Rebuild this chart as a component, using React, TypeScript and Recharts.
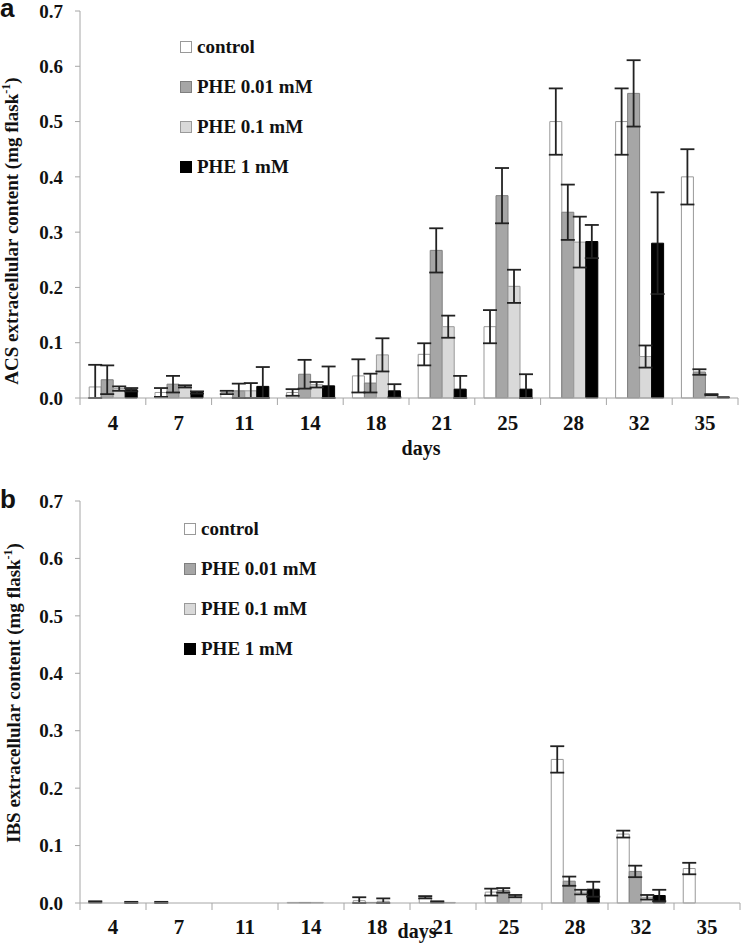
import React from 'react';
import { BarChart, Bar, XAxis, YAxis, ErrorBar, Legend } from 'recharts';

// x categories (days) and y ticks
const days = ['4', '7', '11', '14', '18', '21', '25', '28', '32', '35'];
const yTicks = [0, 0.1, 0.2, 0.3, 0.4, 0.5, 0.6, 0.7];

// panel a – ACS extracellular content
const acsControl = [0.02, 0.01, 0.01, 0.01, 0.04, 0.079, 0.129, 0.5, 0.5, 0.4];
const acsControlErr = [0.04, 0.008, 0.003, 0.006, 0.03, 0.02, 0.03, 0.06, 0.06, 0.05];
const acsPhe001 = [0.033, 0.025, 0.013, 0.043, 0.027, 0.267, 0.366, 0.336, 0.551, 0.047];
const acsPhe001Err = [0.026, 0.015, 0.013, 0.026, 0.017, 0.04, 0.05, 0.05, 0.06, 0.005];
const acsPhe01 = [0.017, 0.021, 0.013, 0.024, 0.078, 0.129, 0.202, 0.282, 0.075, 0.006];
const acsPhe01Err = [0.004, 0.002, 0.014, 0.005, 0.03, 0.02, 0.03, 0.046, 0.02, 0.001];
const acsPhe1 = [0.015, 0.01, 0.021, 0.022, 0.013, 0.016, 0.016, 0.283, 0.28, 0.002];
const acsPhe1Err = [0.003, 0.002, 0.035, 0.035, 0.012, 0.024, 0.027, 0.03, 0.092, 0];

// panel b – IBS extracellular content
const ibsControl = [0.002, 0.001, 0, 0.001, 0.004, 0.01, 0.019, 0.25, 0.12, 0.06];
const ibsControlErr = [0.001, 0.001, 0, 0, 0.006, 0.002, 0.006, 0.023, 0.006, 0.01];
const ibsPhe001 = [0, 0, 0, 0.001, 0.001, 0.002, 0.022, 0.038, 0.055, 0];
const ibsPhe001Err = [0, 0, 0, 0, 0, 0.001, 0.004, 0.008, 0.01, 0];
const ibsPhe01 = [0, 0, 0, 0.001, 0.003, 0.001, 0.012, 0.019, 0.01, 0];
const ibsPhe01Err = [0, 0, 0, 0, 0.005, 0, 0.002, 0.004, 0.004, 0];
const ibsPhe1 = [0.001, 0, 0, 0, 0, 0, 0, 0.024, 0.013, 0];
const ibsPhe1Err = [0.001, 0, 0, 0, 0, 0, 0, 0.013, 0.01, 0];

const SERIES = [
  { key: 'control', name: 'control', fill: '#ffffff', stroke: '#999999' },
  { key: 'phe001', name: 'PHE 0.01 mM', fill: '#a6a6a6', stroke: '#7f7f7f' },
  { key: 'phe01', name: 'PHE 0.1 mM', fill: '#d9d9d9', stroke: '#9a9a9a' },
  { key: 'phe1', name: 'PHE 1 mM', fill: '#000000', stroke: '#000000' },
];

const SERIF = "'Liberation Serif', 'Times New Roman', serif";
const SANS = "'Liberation Sans', Arial, sans-serif";
const AXIS_GRAY = '#a6a6a6';

// error bars are clipped at zero like in the original figure
const buildRows = (vals: number[][], errs: number[][]) =>
  days.map((day, i) => {
    const row: any = { day };
    SERIES.forEach((s, k) => {
      const v = vals[k][i];
      const e = errs[k][i];
      row[s.key] = v;
      row[s.key + 'Err'] = e > 0 ? [Math.min(e, v), e] : null;
    });
    return row;
  });

const acsRows = buildRows(
  [acsControl, acsPhe001, acsPhe01, acsPhe1],
  [acsControlErr, acsPhe001Err, acsPhe01Err, acsPhe1Err]
);
const ibsRows = buildRows(
  [ibsControl, ibsPhe001, ibsPhe01, ibsPhe1],
  [ibsControlErr, ibsPhe001Err, ibsPhe01Err, ibsPhe1Err]
);

// category label + tick marks on the category boundaries
const DayTick = (props: any) => {
  const { x, y, payload, index, band, labelDy } = props;
  const left = x - band / 2;
  const right = x + band / 2;
  return (
    <g>
      <line x1={left} y1={y} x2={left} y2={y + 7} stroke={AXIS_GRAY} />
      {index === days.length - 1 && (
        <line x1={right} y1={y} x2={right} y2={y + 7} stroke={AXIS_GRAY} />
      )}
      <text
        x={x}
        y={y + labelDy}
        textAnchor="middle"
        fontFamily={SERIF}
        fontWeight="bold"
        fontSize={21}
        fill="#111"
      >
        {payload.value}
      </text>
    </g>
  );
};

const LegendBox = () => (
  <div>
    {SERIES.map((s) => (
      <div
        key={s.key}
        style={{ display: 'flex', alignItems: 'center', height: 40 }}
      >
        <span
          style={{
            width: 10,
            height: 10,
            background: s.fill,
            border: `1px solid ${s.stroke}`,
            marginRight: 5,
          }}
        />
        <span
          style={{
            fontFamily: SERIF,
            fontWeight: 'bold',
            fontSize: 19,
            color: '#111',
            whiteSpace: 'nowrap',
          }}
        >
          {s.name}
        </span>
      </div>
    ))}
  </div>
);

interface PanelProps {
  rows: any[];
  top: number;
  height: number;
  marginTop: number;
  marginRight: number;
  xAxisHeight: number;
  labelDy: number;
  legendLeft: number;
  legendTop: number;
}

const Panel = ({
  rows,
  top,
  height,
  marginTop,
  marginRight,
  xAxisHeight,
  labelDy,
  legendLeft,
  legendTop,
}: PanelProps) => {
  const band = (742 - 80 - marginRight) / days.length;
  return (
    <div style={{ position: 'absolute', left: 0, top }}>
      <BarChart
        width={742}
        height={height}
        data={rows}
        margin={{ top: marginTop, right: marginRight, left: 0, bottom: 0 }}
        barCategoryGap="14%"
        barGap={0}
      >
        <XAxis
          dataKey="day"
          height={xAxisHeight}
          interval={0}
          tickSize={0}
          tickMargin={0}
          tickLine={false}
          axisLine={{ stroke: AXIS_GRAY }}
          tick={(p: any) => <DayTick {...p} band={band} labelDy={labelDy} />}
        />
        <YAxis
          width={80}
          domain={[0, 0.7]}
          ticks={yTicks}
          interval={0}
          tickSize={5}
          tickMargin={12}
          tickFormatter={(v: number) => v.toFixed(1)}
          axisLine={{ stroke: AXIS_GRAY }}
          tickLine={{ stroke: AXIS_GRAY }}
          tick={{
            fontFamily: SERIF,
            fontWeight: 'bold',
            fontSize: 19,
            fill: '#111',
          }}
        />
        <Legend
          layout="vertical"
          align="center"
          verticalAlign="middle"
          content={() => <LegendBox />}
          wrapperStyle={{ left: legendLeft, top: legendTop, width: 200, height: 160 }}
        />
        {SERIES.map((s) => (
          <Bar
            key={s.key}
            dataKey={s.key}
            name={s.name}
            fill={s.fill}
            stroke={s.stroke}
            strokeWidth={1}
            isAnimationActive={false}
          >
            <ErrorBar
              dataKey={s.key + 'Err'}
              width={7}
              stroke="#222"
              strokeWidth={1.8}
              isAnimationActive={false}
            />
          </Bar>
        ))}
      </BarChart>
    </div>
  );
};

const textBase: React.CSSProperties = {
  position: 'absolute',
  fontFamily: SERIF,
  fontWeight: 'bold',
  color: '#111',
  whiteSpace: 'nowrap',
  lineHeight: 1,
};

const YTitle = ({ cx, cy, prefix }: { cx: number; cy: number; prefix: string }) => (
  <div
    style={{
      ...textBase,
      left: cx,
      top: cy,
      fontSize: 19,
      transform: 'translate(-50%, -50%) rotate(-90deg)',
    }}
  >
    {prefix} extracellular content (mg flask
    <sup style={{ fontSize: 12, verticalAlign: 'top', position: 'relative', top: -2 }}>-1</sup>)
  </div>
);

export default function App() {
  return (
    <div
      style={{
        position: 'absolute',
        left: 0,
        top: 0,
        width: 742,
        height: 951,
        background: '#fff',
        overflow: 'hidden',
      }}
    >
      <Panel
        rows={acsRows}
        top={0}
        height={470}
        marginTop={11}
        marginRight={4}
        xAxisHeight={72}
        labelDy={32}
        legendLeft={180}
        legendTop={27}
      />
      <Panel
        rows={ibsRows}
        top={470}
        height={481}
        marginTop={31}
        marginRight={2}
        xAxisHeight={48}
        labelDy={31}
        legendLeft={184}
        legendTop={39}
      />
      <YTitle cx={11} cy={231} prefix="ACS" />
      <YTitle cx={13} cy={693} prefix="IBS" />
      <div style={{ ...textBase, fontSize: 20, left: 421, top: 438, transform: 'translateX(-50%)' }}>
        days
      </div>
      <div style={{ ...textBase, fontSize: 20, left: 417, top: 921, transform: 'translateX(-50%)' }}>
        days
      </div>
      <div style={{ ...textBase, fontFamily: SANS, fontSize: 26, left: 0, top: -5 }}>a</div>
      <div style={{ ...textBase, fontFamily: SANS, fontSize: 26, left: 0, top: 486 }}>b</div>
    </div>
  );
}
